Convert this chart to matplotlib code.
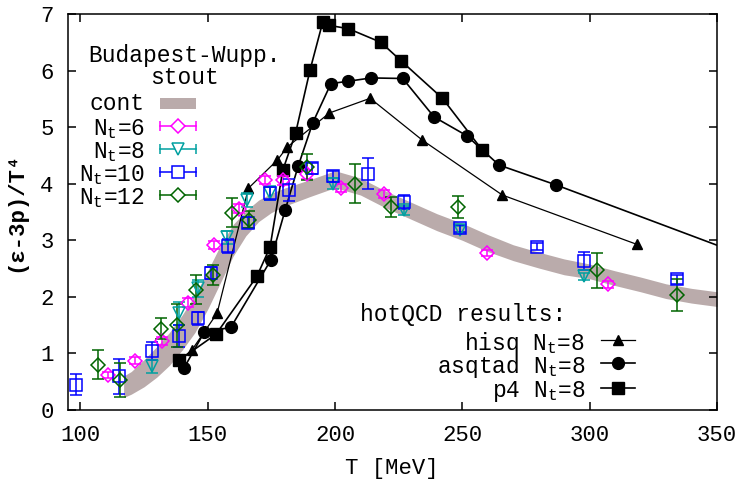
import numpy as np
import matplotlib
matplotlib.use('Agg')
from matplotlib import pyplot as plt
from matplotlib.patches import Rectangle

plt.rcParams['font.family'] = ['Liberation Mono', 'DejaVu Sans Mono']
plt.rcParams['mathtext.default'] = 'regular'

# continuum band: centre and half width
t_cont = [117, 120, 125, 130, 135, 140, 145, 150, 155, 160, 165, 170, 175, 180, 190,
          200, 210, 220, 230, 240, 250, 260, 270, 280, 290, 300, 310, 320, 330, 340, 350]
e_cont = [0.41, 0.48, 0.65, 0.85, 1.08, 1.37, 1.70, 2.12, 2.58, 3.00, 3.30, 3.52, 3.66, 3.76, 3.92,
          4.08, 3.95, 3.72, 3.52, 3.32, 3.15, 2.95, 2.78, 2.65, 2.53, 2.45, 2.33, 2.22, 2.10, 2.02, 1.96]
w_cont = [0.19, 0.20, 0.24, 0.27, 0.29, 0.31, 0.33, 0.34, 0.33, 0.28, 0.22, 0.19, 0.17, 0.16, 0.15,
          0.15, 0.15, 0.15, 0.15, 0.15, 0.15, 0.15, 0.14, 0.14, 0.14, 0.13, 0.13, 0.13, 0.13, 0.13, 0.13]

# Budapest-Wuppertal stout lattice data
t_nt6 = [110.7, 121.3, 132.0, 142.2, 152.3, 162.5, 172.6, 179.5, 189.0, 202.3, 219.3, 259.8, 307.3]
e_nt6 = [0.62, 0.87, 1.22, 1.90, 2.92, 3.56, 4.06, 4.06, 4.17, 3.93, 3.82, 2.77, 2.22]
d_nt6 = [0.06, 0.06, 0.07, 0.08, 0.07, 0.08, 0.07, 0.08, 0.08, 0.07, 0.07, 0.05, 0.06]

t_nt8 = [128.1, 138.8, 146.1, 157.5, 165.4, 174.3, 199.4, 226.9, 249.1, 297.8]
e_nt8 = [0.77, 1.71, 2.15, 3.05, 3.71, 3.84, 4.00, 3.53, 3.19, 2.36]
d_nt8 = [0.12, 0.20, 0.15, 0.12, 0.12, 0.12, 0.10, 0.08, 0.07, 0.07]

t_nt10 = [98.4, 115.0, 128.3, 138.9, 146.4, 151.5, 157.8, 165.8, 174.3, 181.9, 191.0,
          199.4, 213.1, 226.9, 249.1, 279.2, 297.8, 334.1]
e_nt10 = [0.45, 0.60, 1.04, 1.31, 1.62, 2.42, 2.90, 3.31, 3.83, 3.89, 4.27,
          4.13, 4.18, 3.68, 3.21, 2.89, 2.63, 2.31]
d_nt10 = [0.18, 0.31, 0.16, 0.20, 0.12, 0.10, 0.12, 0.10, 0.12, 0.20, 0.10,
          0.10, 0.27, 0.12, 0.06, 0.07, 0.16, 0.08]

t_nt12 = [106.9, 115.7, 131.5, 137.9, 145.6, 152.2, 159.6, 166.3, 189.2, 207.9, 221.9, 248.2, 302.9, 334.1]
e_nt12 = [0.80, 0.53, 1.44, 1.50, 2.13, 2.39, 3.49, 3.36, 4.29, 4.00, 3.59, 3.59, 2.47, 2.03]
d_nt12 = [0.26, 0.30, 0.18, 0.38, 0.25, 0.18, 0.26, 0.15, 0.23, 0.34, 0.18, 0.19, 0.31, 0.28]

# hotQCD N_t=8 results
t_hisq = [139.5, 143.8, 153.7, 166.0, 177.4, 181.3, 197.8, 213.8, 234.3, 265.7, 318.4]
e_hisq = [0.90, 1.06, 1.71, 3.92, 4.42, 4.65, 5.25, 5.51, 4.77, 3.80, 2.93]

t_asqtad = [140.8, 148.7, 159.1, 174.8, 180.4, 185.6, 191.3, 198.4, 205.0, 214.2,
            226.6, 238.9, 251.7, 264.4, 286.7, 365.0]
e_asqtad = [0.75, 1.38, 1.46, 2.65, 3.53, 4.32, 5.08, 5.77, 5.81, 5.87,
            5.86, 5.18, 4.85, 4.33, 3.98, 2.66]

t_p4 = [138.8, 153.3, 169.3, 174.5, 179.5, 184.5, 190.2, 195.2, 197.6, 205.3, 218.0, 226.0, 242.2, 257.9]
e_p4 = [0.88, 1.34, 2.36, 2.88, 4.24, 4.89, 6.01, 6.86, 6.80, 6.74, 6.50, 6.17, 5.51, 4.59]

band_col = '#baabab'
lattice = [
    (r'N$_{t}$=6', t_nt6, e_nt6, d_nt6, 'D', 7.0, '#ff00ff'),
    (r'N$_{t}$=8', t_nt8, e_nt8, d_nt8, 'v', 8.5, '#00a0a0'),
    (r'N$_{t}$=10', t_nt10, e_nt10, d_nt10, 's', 8.5, '#0000ff'),
    (r'N$_{t}$=12', t_nt12, e_nt12, d_nt12, 'D', 7.0, '#006400'),
]
hotqcd = [
    (r'hisq N$_{t}$=8', t_hisq, e_hisq, '^', 7.5, 0.9),
    (r'asqtad N$_{t}$=8', t_asqtad, e_asqtad, 'o', 8.5, 1.2),
    (r'p4 N$_{t}$=8', t_p4, e_p4, 's', 8.5, 1.2),
]

fig = plt.figure(figsize=(7.42, 4.8), dpi=100)
ax = fig.add_axes([67.6 / 742, 70 / 480, 649.4 / 742, 396 / 480])

tc = np.array(t_cont)
ec = np.array(e_cont)
wc = np.array(w_cont)
ax.fill_between(tc, ec - wc, ec + wc, color=band_col, lw=0, zorder=1)

for lab, t, e, m, ms, lw in hotqcd:
    ax.plot(t, e, color='black', lw=lw, marker=m, ms=ms, zorder=3)

for lab, t, e, d, m, ms, col in lattice:
    ax.errorbar(t, e, yerr=d, fmt=m, ms=ms, mfc='none', mec=col, mew=1.1,
                ecolor=col, elinewidth=1.1, capsize=4, capthick=1.1, zorder=4)

ax.set_xlim(95, 350)
ax.set_ylim(0, 7)
ax.set_xticks([100, 150, 200, 250, 300, 350])
ax.set_yticks(range(8))
ax.tick_params(direction='in', top=True, right=True, length=6, width=1.1, labelsize=16)
ax.tick_params(axis='x', pad=11)
ax.tick_params(axis='y', pad=10)
for s in ax.spines.values():
    s.set_linewidth(1.1)

ax.set_xlabel('T [MeV]', fontsize=16)
ax.xaxis.set_label_coords(0.5, -0.12)
ax.set_ylabel('(ε-3p)/T⁴', fontsize=16, fontweight='bold')
ax.yaxis.set_label_coords(-0.064, 0.5)

# key for the lattice data
fs = 16.5
tr = ax.transAxes
ax.text(0.180, 0.895, 'Budapest-Wupp.', transform=tr, ha='center', va='center', fontsize=fs)
ax.text(0.180, 0.840, 'stout', transform=tr, ha='center', va='center', fontsize=fs)
x0, x1, xm, xt = 0.1425, 0.198, 0.170, 0.119
rows = [0.773, 0.717, 0.658, 0.600, 0.543]
ax.text(xt, rows[0], 'cont', transform=tr, ha='right', va='center', fontsize=fs)
ax.add_patch(Rectangle((x0, rows[0] - 0.012), x1 - x0, 0.026, transform=tr,
                       color=band_col, lw=0))
for (lab, t, e, d, m, ms, col), y in zip(lattice, rows[1:]):
    ax.text(xt, y, lab, transform=tr, ha='right', va='center_baseline', fontsize=fs)
    ax.plot([x0, x1], [y, y], color=col, lw=1.1, transform=tr)
    ax.plot([x0, x1], [y, y], ls='none', marker='|', ms=7, mew=1.1, color=col, transform=tr)
    ax.plot([xm], [y], ls='none', marker=m, ms=ms, mfc='white', mec=col, mew=1.1, transform=tr)

# key for hotQCD
ax.text(0.450, 0.242, 'hotQCD results:', transform=tr, ha='left', va='center', fontsize=fs)
hx0, hx1, hxm, hxt = 0.822, 0.873, 0.848, 0.797
for (lab, t, e, m, ms, lw), y in zip(hotqcd, [0.177, 0.118, 0.055]):
    ax.text(hxt, y, lab, transform=tr, ha='right', va='center_baseline', fontsize=fs)
    ax.plot([hx0, hx1], [y, y], color='black', lw=lw, transform=tr)
    ax.plot([hxm], [y], marker=m, ms=ms, color='black', transform=tr)

fig.savefig('out.png', dpi=100)
